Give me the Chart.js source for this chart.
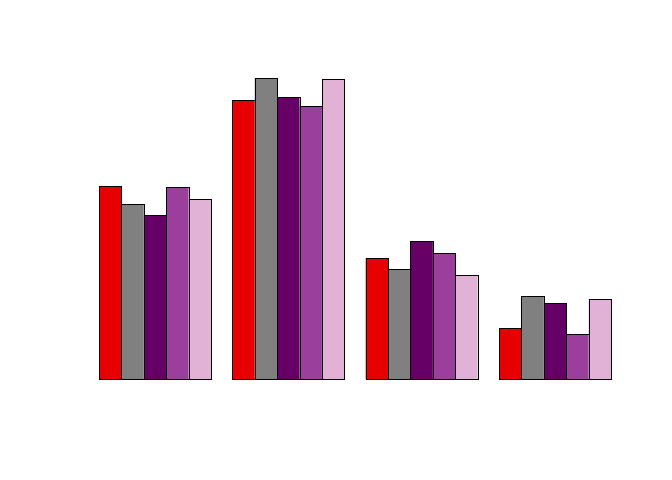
<!DOCTYPE html>
<html>
<head>
<meta charset="utf-8">
<script src="https://cdn.jsdelivr.net/npm/chart.js@4/dist/chart.umd.min.js"></script>
<style>
  html, body { margin: 0; padding: 0; background: #fff; }
  canvas { display: block; }
</style>
</head>
<body>
<canvas id="barChart" width="672" height="480"></canvas>
<script>
const groups = ['A', 'B', 'C', 'D'];
const series1 = [193, 279, 121, 51];
const series2 = [175, 301, 110, 83];
const series3 = [164, 282, 138, 76];
const series4 = [192, 273, 126, 45];
const series5 = [180, 300, 104, 80];
const colors = ['#E60000', '#808080', '#660066', '#9A3F9C', '#E2B2D6'];

const allSeries = [series1, series2, series3, series4, series5];

// crisp 1px black outlines like R's barplot, snapped to the pixel grid
const barOutline = {
    id: 'barOutline',
    afterDatasetsDraw(chart) {
        const c = chart.ctx;
        c.save();
        c.strokeStyle = '#000000';
        c.lineWidth = 1;
        chart.data.datasets.forEach((ds, i) => {
            chart.getDatasetMeta(i).data.forEach(bar => {
                const p = bar.getProps(['x', 'y', 'base', 'width'], true);
                const l = Math.round(p.x - p.width / 2) + 0.5;
                const r = Math.round(p.x + p.width / 2) + 0.5;
                const t = Math.round(p.y) + 0.5;
                const b = Math.round(p.base) + 0.5;
                c.strokeRect(l, t, r - l, b - t);
            });
        });
        c.restore();
    }
};

const datasets = allSeries.map((values, i) => ({
    data: values,
    backgroundColor: colors[i],
    borderWidth: 0,
    barPercentage: 1.0,
    categoryPercentage: 0.84
}));

const ctx = document.getElementById('barChart').getContext('2d');
new Chart(ctx, {
    type: 'bar',
    data: {
        labels: groups,
        datasets: datasets
    },
    options: {
        responsive: false,
        animation: false,
        layout: {
            padding: { left: 88.3, right: 50.3, top: 59, bottom: 100.7 }
        },
        plugins: {
            legend: { display: false },
            tooltip: { enabled: false }
        },
        scales: {
            x: { display: false },
            y: { display: false, min: 0, max: 320.3 }
        }
    },
    plugins: [barOutline]
});
</script>
</body>
</html>
